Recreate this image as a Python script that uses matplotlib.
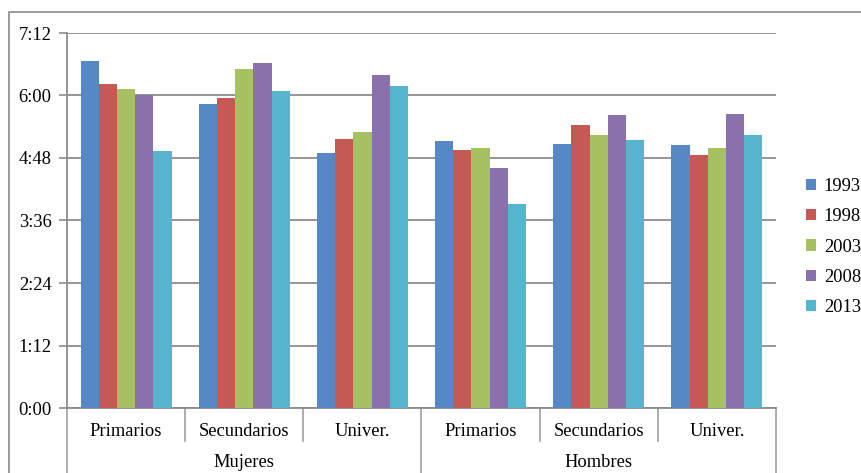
import matplotlib
matplotlib.use("Agg")
import matplotlib.pyplot as plt
from matplotlib.patches import Rectangle, Patch
import numpy as np

plt.rcParams['font.family'] = ['Liberation Serif', 'DejaVu Serif']

categories = ["Primarios", "Secundarios", "Univer.", "Primarios", "Secundarios", "Univer."]
groups = ["Mujeres", "Hombres"]
years = ["1993", "1998", "2003", "2008", "2013"]
# values in minutes
v1993 = [400, 350, 294, 308, 304, 303]
v1998 = [373, 357, 310, 297, 326, 292]
v2003 = [367, 390, 318, 300, 314, 300]
v2008 = [360, 398, 384, 276, 337, 339]
v2013 = [296, 365, 371, 235, 309, 314]
series = [v1993, v1998, v2003, v2008, v2013]
colors = ["#5689C4", "#C55A55", "#A5C162", "#8B71AB", "#57B4CF"]
ytick_vals = [0, 72, 144, 216, 288, 360, 432]
ytick_labels = ["0:00", "1:12", "2:24", "3:36", "4:48", "6:00", "7:12"]

W, H = 861, 473
fig = plt.figure(figsize=(W/100, H/100), dpi=100)
L, R, T, B = 67, 776, 33, 408
ax = fig.add_axes([L/W, (H-B)/H, (R-L)/W, (B-T)/H])

# outer chart frame
fig.patches.append(Rectangle((9/W, -0.1), 1.2, (H-12)/H + 0.1, transform=fig.transFigure,
                             fill=False, edgecolor="#8a8a8a", linewidth=1.2, zorder=0))

FS = 13.3
x = np.arange(len(categories))
w = 1/6.5
for i, (vals, c) in enumerate(zip(series, colors)):
    ax.bar(x + (i-2)*w, vals, width=w, color=c, label=years[i], zorder=3)

ax.set_xlim(-0.5, len(categories)-0.5)
ax.set_ylim(0, 432)
ax.set_yticks(ytick_vals)
ax.set_yticklabels(ytick_labels, fontsize=FS)
ax.grid(axis='y', color="#8c8c8c", linewidth=1.3, zorder=0)
ax.set_axisbelow(True)
ax.tick_params(axis='y', length=6, width=1.2, color="#8c8c8c", pad=5)
ax.tick_params(axis='x', length=0, labelbottom=False)
for s in ['top', 'right']:
    ax.spines[s].set_visible(False)
for s in ['left', 'bottom']:
    ax.spines[s].set_color("#8c8c8c")
    ax.spines[s].set_linewidth(1.3)

trans = ax.get_xaxis_transform()
y_cat_div = (B-441)/(B-T)
y_grp_div = (B-H-2)/(B-T)
for b in np.arange(-0.5, len(categories), 1.0):
    is_group = (abs(b + 0.5) < 1e-6) or (abs(b - 2.5) < 1e-6) or (abs(b - 5.5) < 1e-6)
    ax.plot([b, b], [0, y_grp_div if is_group else y_cat_div], transform=trans,
            color="#a0a0a0", linewidth=1.2, clip_on=False)
for xi, c in zip(x, categories):
    ax.text(xi, (B-431)/(B-T), c, transform=trans, ha='center', va='center', fontsize=FS)
for gi, g in enumerate(groups):
    ax.text(1 + 3*gi, (B-462)/(B-T), g, transform=trans, ha='center', va='center', fontsize=FS)

handles = [Patch(facecolor=c, label=y) for c, y in zip(colors, years)]
fig.legend(handles=handles, loc='center left', bbox_to_anchor=(797/W, 1-247/H),
           frameon=False, fontsize=FS, handlelength=0.55, handleheight=0.55,
           handletextpad=0.4, labelspacing=0.72, borderpad=0)

fig.savefig("out.png", dpi=100)
